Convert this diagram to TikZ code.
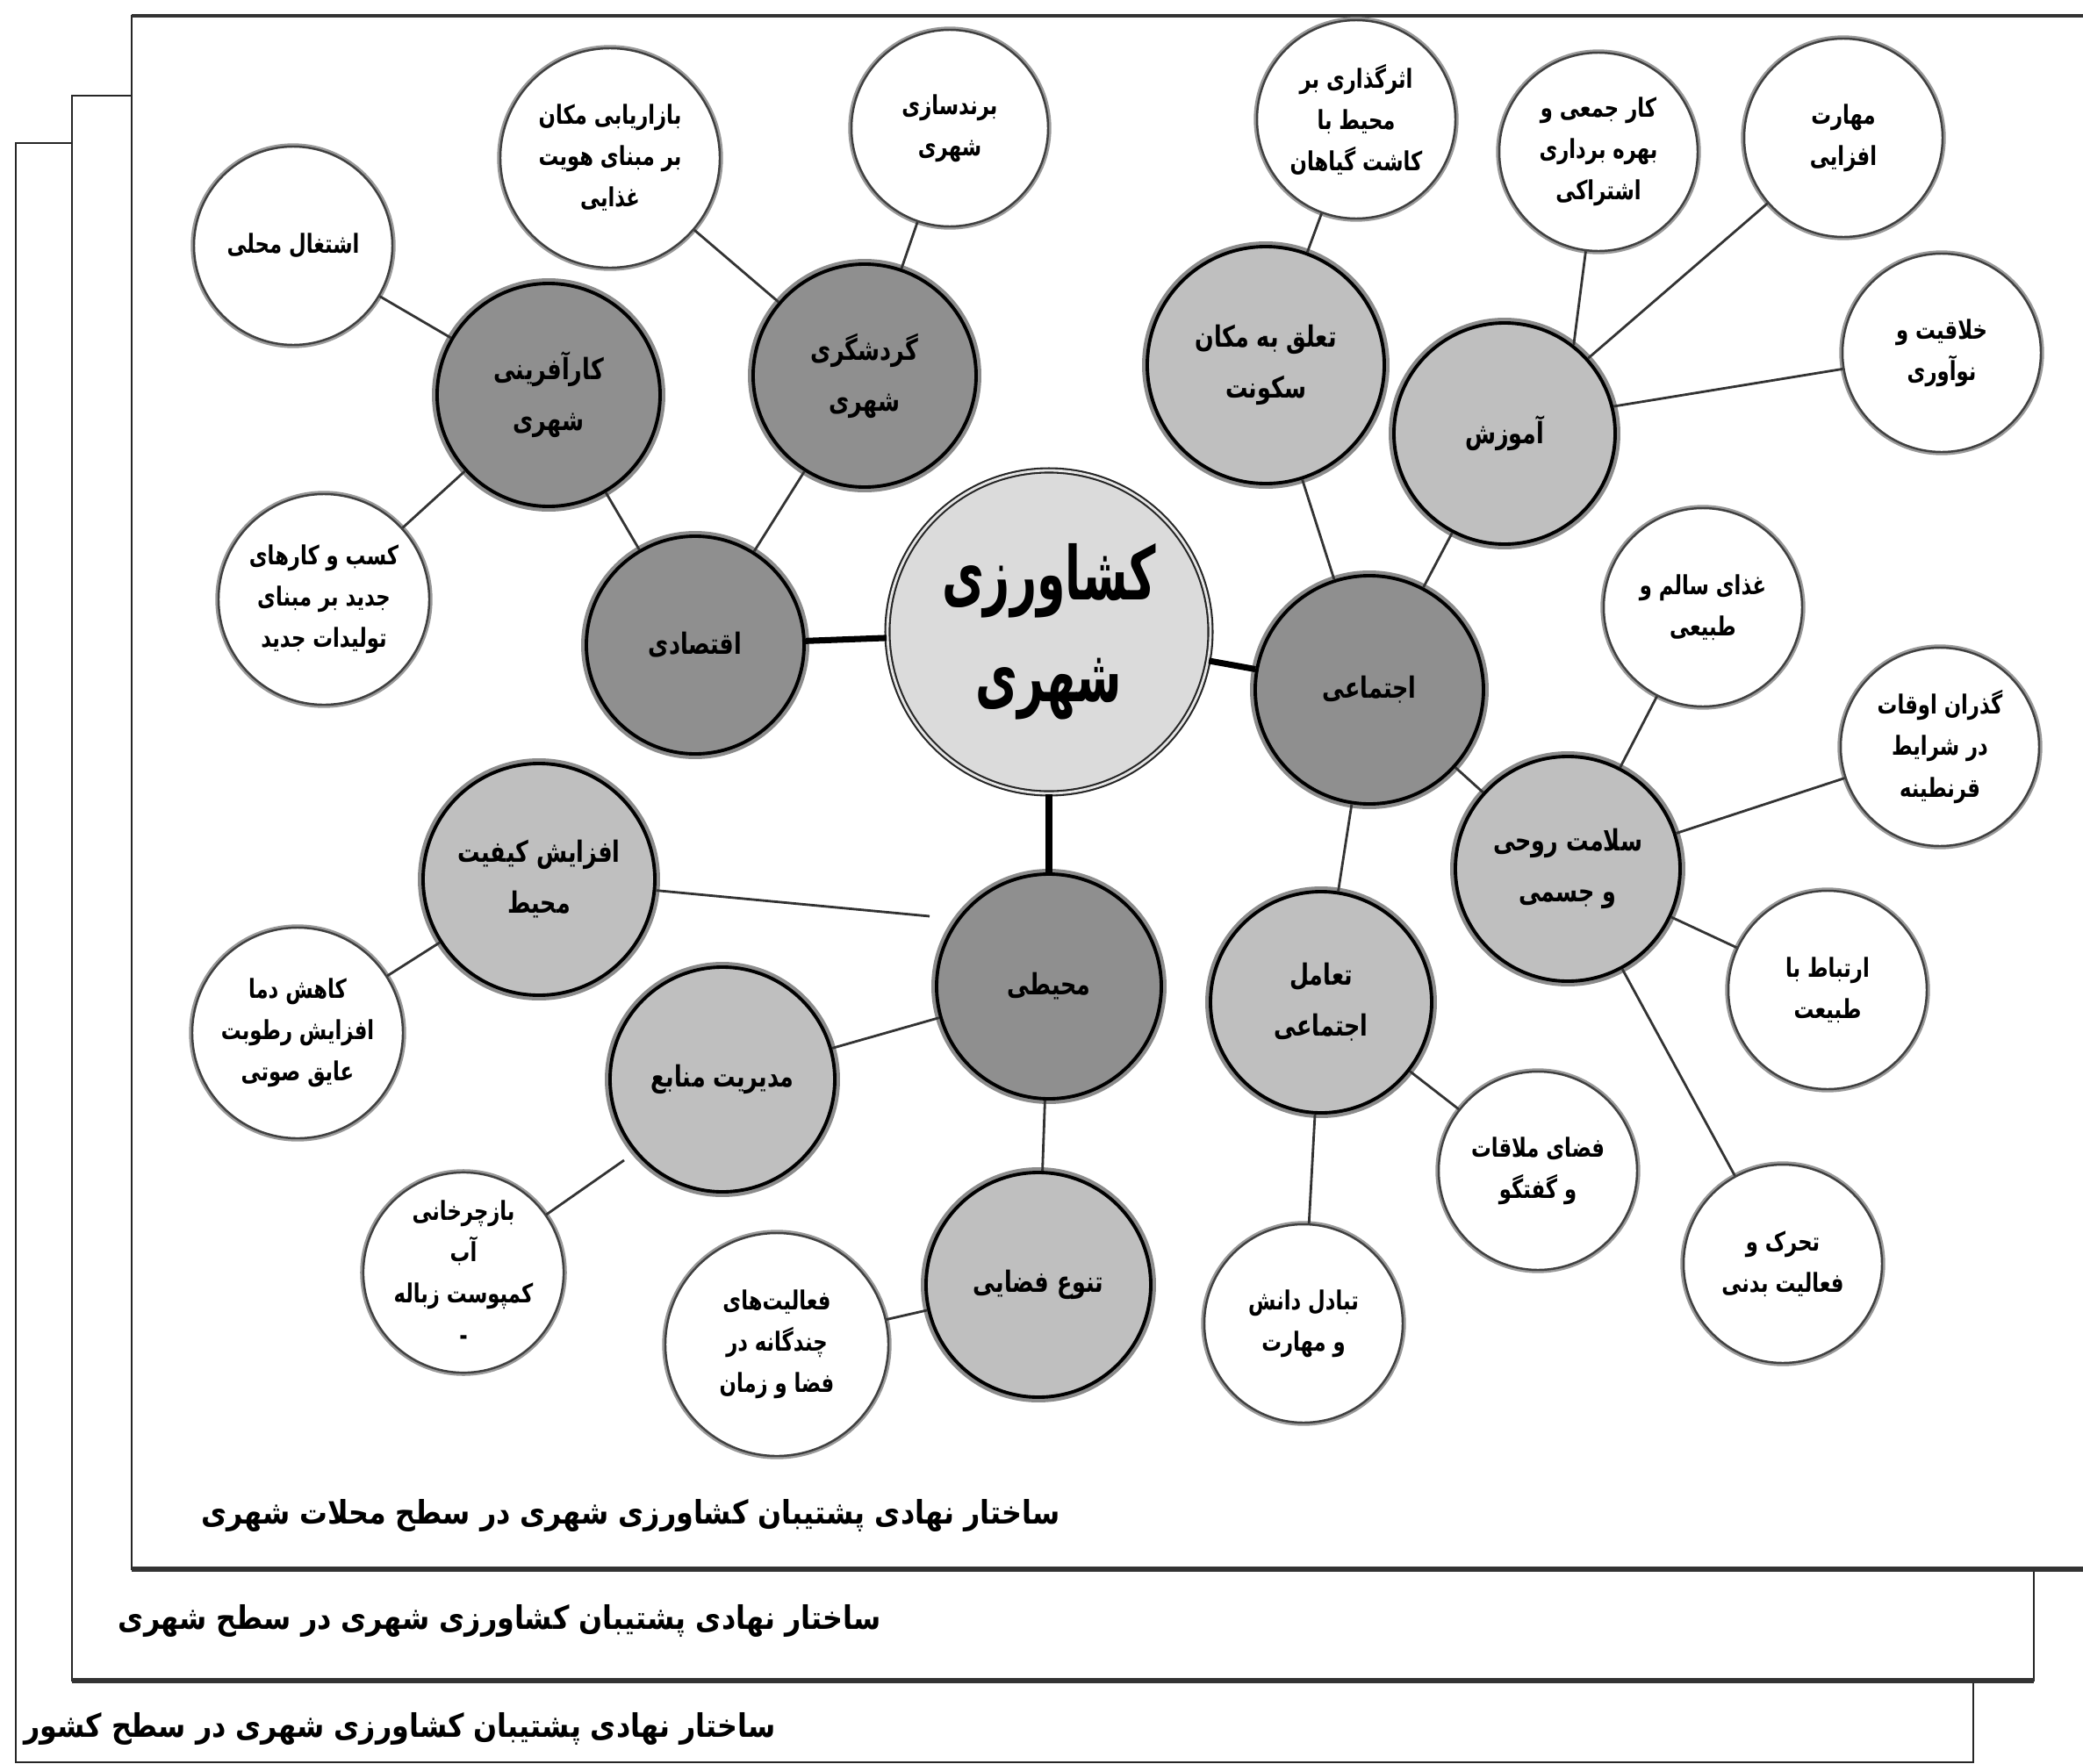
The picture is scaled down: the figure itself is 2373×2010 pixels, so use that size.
\documentclass[tikz,border=0pt]{standalone}
\usepackage{fontspec}
\newfontfamily\fafont[Script=Arabic, FakeStretch=0.76]{DejaVu Sans}
\newfontfamily\fahub[Script=Arabic, FakeStretch=0.62]{DejaVu Sans}
\newfontfamily\facap[Script=Arabic, FakeStretch=0.86]{DejaVu Sans}
\TeXXeTstate=1
\newcommand\fa[1]{\beginR #1\endR}
\begin{document}
\begin{tikzpicture}[x=0.2845pt,y=-0.2845pt,
  rad/.style={minimum size={2*#1*0.2845pt}},
  base/.style={circle, inner sep=0pt, align=center},
  leaf/.style={base, fill=white, draw=black!75, line width=0.7pt,
    preaction={draw=black!40, line width=2.1pt},
    font=\fafont\bfseries\fontsize{8.5}{13.4}\selectfont},
  midc/.style={base, fill=black!25, draw=black, line width=1.1pt,
    preaction={draw=black!45, line width=3.4pt},
    font=\fafont\bfseries\fontsize{9.5}{16.5}\selectfont},
  darkc/.style={base, fill=black!44, draw=black, line width=1.1pt,
    preaction={draw=black!45, line width=3.4pt},
    font=\fafont\bfseries\fontsize{9.5}{16.5}\selectfont},
  hubc/.style={base, fill=black!14, draw=black!85, line width=0.6pt,
    double=black!10, double distance=0.8pt,
    font=\fahub\bfseries\fontsize{24}{33}\selectfont},
  conn/.style={draw=black!80, line width=0.8pt},
  thick conn/.style={draw=black, line width=2pt},
  framec/.style={draw=black!85, line width=0.7pt},
  caption/.style={inner sep=0pt, font=\facap\bfseries\fontsize{10.5}{13}\selectfont}
]
\clip (0,0) rectangle (2373,2010);
\fill[white] (0,0) rectangle (2373,2010);
% stacked frames
\draw[framec] (18,163) rectangle (2248,2008);
\fill[white] (82,109) rectangle (2317,1915);
\draw[framec] (82,109) rectangle (2317,1915);
\draw[line width=1.6pt, black!80] (82,1915) -- (2317,1915);
\fill[white] (150,18) rectangle (2420,1788);
\draw[framec] (150,18) rectangle (2420,1788);
\draw[line width=1.6pt, black!80] (150,1788) -- (2420,1788);
\draw[line width=1.2pt, black!80] (150,18) -- (2420,18);

\node[caption, anchor=east] (cap1) at (1208,1727) {\fa{ساختار نهادی پشتیبان کشاورزی شهری در سطح محلات شهری}};
\node[caption, anchor=east] (cap2) at (1004,1847) {\fa{ساختار نهادی پشتیبان کشاورزی شهری در سطح شهری}};
\node[caption, anchor=east] (cap3) at (884,1970) {\fa{ساختار نهادی پشتیبان کشاورزی شهری در سطح کشور}};

% hub and main branches
\node[hubc, rad=184] (C) at (1195,720) {\fa{کشاورزی}\\\fa{شهری}};
\node[darkc, rad=124] (ECO) at (792,735) {\fa{اقتصادی}};
\node[darkc, rad=130] (SOC) at (1560,786) {\fa{اجتماعی}};
\node[darkc, rad=128] (ENV) at (1195,1124) {\fa{محیطی}};

% second level
\node[darkc, rad=127] (KAR) at (625,450) {\fa{کارآفرینی}\\\fa{شهری}};
\node[darkc, rad=127] (GAR) at (985,428) {\fa{گردشگری}\\\fa{شهری}};
\node[midc, rad=135] (TAL) at (1442,416) {\fa{تعلق به مکان}\\\fa{سکونت}};
\node[midc, rad=126] (AMZ) at (1714,494) {\fa{آموزش}};
\node[midc, rad=128] (SAL) at (1786,990) {\fa{سلامت روحی}\\\fa{و جسمی}};
\node[midc, rad=126] (TAM) at (1505,1142) {\fa{تعامل}\\\fa{اجتماعی}};
\node[midc, rad=132] (AFZ) at (614,1002) {\fa{افزایش کیفیت}\\\fa{محیط}};
\node[midc, rad=128] (MOD) at (823,1230) {\fa{مدیریت منابع}};
\node[midc, rad=128] (TAN) at (1183,1464) {\fa{تنوع فضایی}};

% leaves
\node[leaf, rad=113] (ESH) at (334,280) {\fa{اشتغال محلی}};
\node[leaf, rad=125] (BAZ) at (695,180) {\fa{بازاریابی مکان}\\\fa{بر مبنای هویت}\\\fa{غذایی}};
\node[leaf, rad=112] (BRN) at (1082,146) {\fa{برندسازی}\\\fa{شهری}};
\node[leaf, rad=120] (KSB) at (369,683) {\fa{کسب و کارهای}\\\fa{جدید بر مبنای}\\\fa{تولیدات جدید}};
\node[leaf, rad=113] (ASR) at (1545,136) {\fa{اثرگذاری بر}\\\fa{محیط با}\\\fa{کاشت گیاهان}};
\node[leaf, rad=113] (KJM) at (1821,173) {\fa{کار جمعی و}\\\fa{بهره برداری}\\\fa{اشتراکی}};
\node[leaf, rad=113] (MHR) at (2100,157) {\fa{مهارت}\\\fa{افزایی}};
\node[leaf, rad=113] (KHL) at (2212,402) {\fa{خلاقیت و}\\\fa{نوآوری}};
\node[leaf, rad=113] (GHZ) at (1940,692) {\fa{غذای سالم و}\\\fa{طبیعی}};
\node[leaf, rad=113] (GZR) at (2210,851) {\fa{گذران اوقات}\\\fa{در شرایط}\\\fa{قرنطینه}};
\node[leaf, rad=113] (ERT) at (2082,1128) {\fa{ارتباط با}\\\fa{طبیعت}};
\node[leaf, rad=113] (TAH) at (2031,1440) {\fa{تحرک و}\\\fa{فعالیت بدنی}};
\node[leaf, rad=113] (FMQ) at (1752,1334) {\fa{فضای ملاقات}\\\fa{و گفتگو}};
\node[leaf, rad=113] (TBD) at (1485,1508) {\fa{تبادل دانش}\\\fa{و مهارت}};
\node[leaf, rad=120] (KHD) at (339,1177) {\fa{کاهش دما}\\\fa{افزایش رطوبت}\\\fa{عایق صوتی}};
\node[leaf, rad=113] (BZC) at (528,1450) {\fa{بازچرخانی}\\\fa{آب}\\\fa{کمپوست زباله}\\-};
\node[leaf, rad=127] (FAL) at (885,1532) {\fa{فعالیت‌های}\\\fa{چندگانه در}\\\fa{فضا و زمان}};

% free ends of the two short connectors
\coordinate (envgap) at (1059,1044);
\coordinate (modgap) at (711,1322);

% connectors
\draw[thick conn] (C) -- (ECO);
\draw[thick conn] (C) -- (SOC);
\draw[thick conn] (C) -- (ENV);
\draw[conn] (ECO) -- (KAR);
\draw[conn] (ECO) -- (GAR);
\draw[conn] (KAR) -- (ESH);
\draw[conn] (KAR) -- (KSB);
\draw[conn] (GAR) -- (BAZ);
\draw[conn] (GAR) -- (BRN);
\draw[conn] (SOC) -- (TAL);
\draw[conn] (SOC) -- (AMZ);
\draw[conn] (SOC) -- (SAL);
\draw[conn] (SOC) -- (TAM);
\draw[conn] (TAL) -- (ASR);
\draw[conn] (KJM) -- (AMZ.52);
\draw[conn] (MHR) -- (AMZ.42);
\draw[conn] (KHL) -- (AMZ.14);
\draw[conn] (SAL) -- (GHZ);
\draw[conn] (SAL) -- (GZR);
\draw[conn] (SAL) -- (ERT);
\draw[conn] (SAL) -- (TAH);
\draw[conn] (TAM) -- (FMQ);
\draw[conn] (TAM) -- (TBD);
\draw[conn] (AFZ) -- (envgap);
\draw[conn] (ENV) -- (MOD);
\draw[conn] (ENV) -- (TAN);
\draw[conn] (AFZ) -- (KHD);
\draw[conn] (modgap) -- (BZC);
\draw[conn] (TAN) -- (FAL);
\end{tikzpicture}
\end{document}
